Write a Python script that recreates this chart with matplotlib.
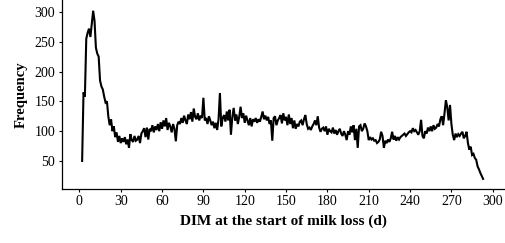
import numpy as np
import matplotlib
matplotlib.use("Agg")
import matplotlib.pyplot as plt

# frequency per DIM, starting at day 2
freq = [
    50, 165, 158, 255, 265, 272, 258, 280, 302, 285,
    240, 230, 225, 185, 175, 170, 158, 148, 150, 125,
    110, 120, 100, 108, 90, 98, 82, 92, 80, 88,
    82, 90, 78, 86, 72, 95, 85, 82, 92, 84,
    86, 92, 80, 96, 100, 105, 90, 106, 86, 104,
    100, 110, 98, 108, 102, 112, 100, 115, 104, 118,
    108, 122, 102, 114, 108, 98, 112, 104, 83, 110,
    116, 112, 122, 114, 126, 118, 112, 128, 120, 132,
    116, 138, 124, 120, 130, 118, 126, 122, 156, 118,
    122, 112, 125, 118, 110, 116, 105, 114, 102, 120,
    164, 108, 122, 127, 116, 133, 118, 136, 94, 124,
    139, 118, 128, 112, 124, 141, 122, 130, 114, 126,
    118, 110, 122, 108, 120, 116, 122, 114, 120, 116,
    124, 133, 120, 126, 118, 124, 112, 118, 84, 122,
    125, 110, 118, 122, 127, 113, 130, 118, 124, 110,
    128, 112, 122, 105, 118, 104, 112, 108, 116, 118,
    110, 120, 127, 112, 104, 106, 102, 108, 112, 118,
    110, 125, 106, 99, 104, 106, 100, 108, 94, 104,
    100, 98, 106, 96, 102, 94, 100, 104, 96, 92,
    100, 94, 85, 100, 94, 108, 98, 110, 85, 104,
    72, 108, 110, 100, 104, 113, 108, 100, 85, 90,
    86, 88, 84, 85, 80, 82, 86, 99, 92, 72,
    84, 80, 86, 82, 88, 99, 86, 92, 84, 90,
    86, 90, 92, 94, 96, 92, 95, 98, 100, 98,
    105, 100, 102, 98, 94, 100, 119, 92, 88, 100,
    96, 106, 100, 108, 100, 110, 104, 106, 112, 108,
    120, 125, 110, 130, 152, 140, 118, 144, 112, 94,
    85, 96, 90, 95, 92, 96, 99, 88, 92, 99,
    80, 69, 74, 60, 62, 55, 52, 41, 36, 30,
    25, 20,
]
first_day = 2
days = np.arange(first_day, first_day + len(freq))

x_ticks = [0, 30, 60, 90, 120, 150, 180, 210, 240, 270, 300]
y_ticks = [50, 100, 150, 200, 250, 300]

plt.rcParams["font.family"] = ["Liberation Serif", "DejaVu Serif"]

fig = plt.figure(figsize=(5.05, 2.43), dpi=100, facecolor="white")
ax = fig.add_axes([0.1228, 0.2222, 0.8772, 0.7778])

ax.plot(days, freq, color="black", linewidth=1.5, solid_joinstyle="miter")

ax.set_xlim(-12.6, 308.9)
ax.set_ylim(3, 320)
ax.set_xticks(x_ticks)
ax.set_yticks(y_ticks)

ax.spines["top"].set_visible(False)
ax.spines["right"].set_visible(False)
for s in ("left", "bottom"):
    ax.spines[s].set_linewidth(0.9)

ax.tick_params(axis="both", direction="out", length=2.5, width=0.8,
               labelsize=10)
ax.tick_params(axis="x", pad=1.5)
ax.tick_params(axis="y", pad=2.5)

ax.set_xlabel("DIM at the start of milk loss (d)", fontsize=11,
              fontweight="bold", labelpad=5)
ax.set_ylabel("Frequency", fontsize=10.5, fontweight="bold", labelpad=5)

fig.savefig("out.png", dpi=100, facecolor="white")
